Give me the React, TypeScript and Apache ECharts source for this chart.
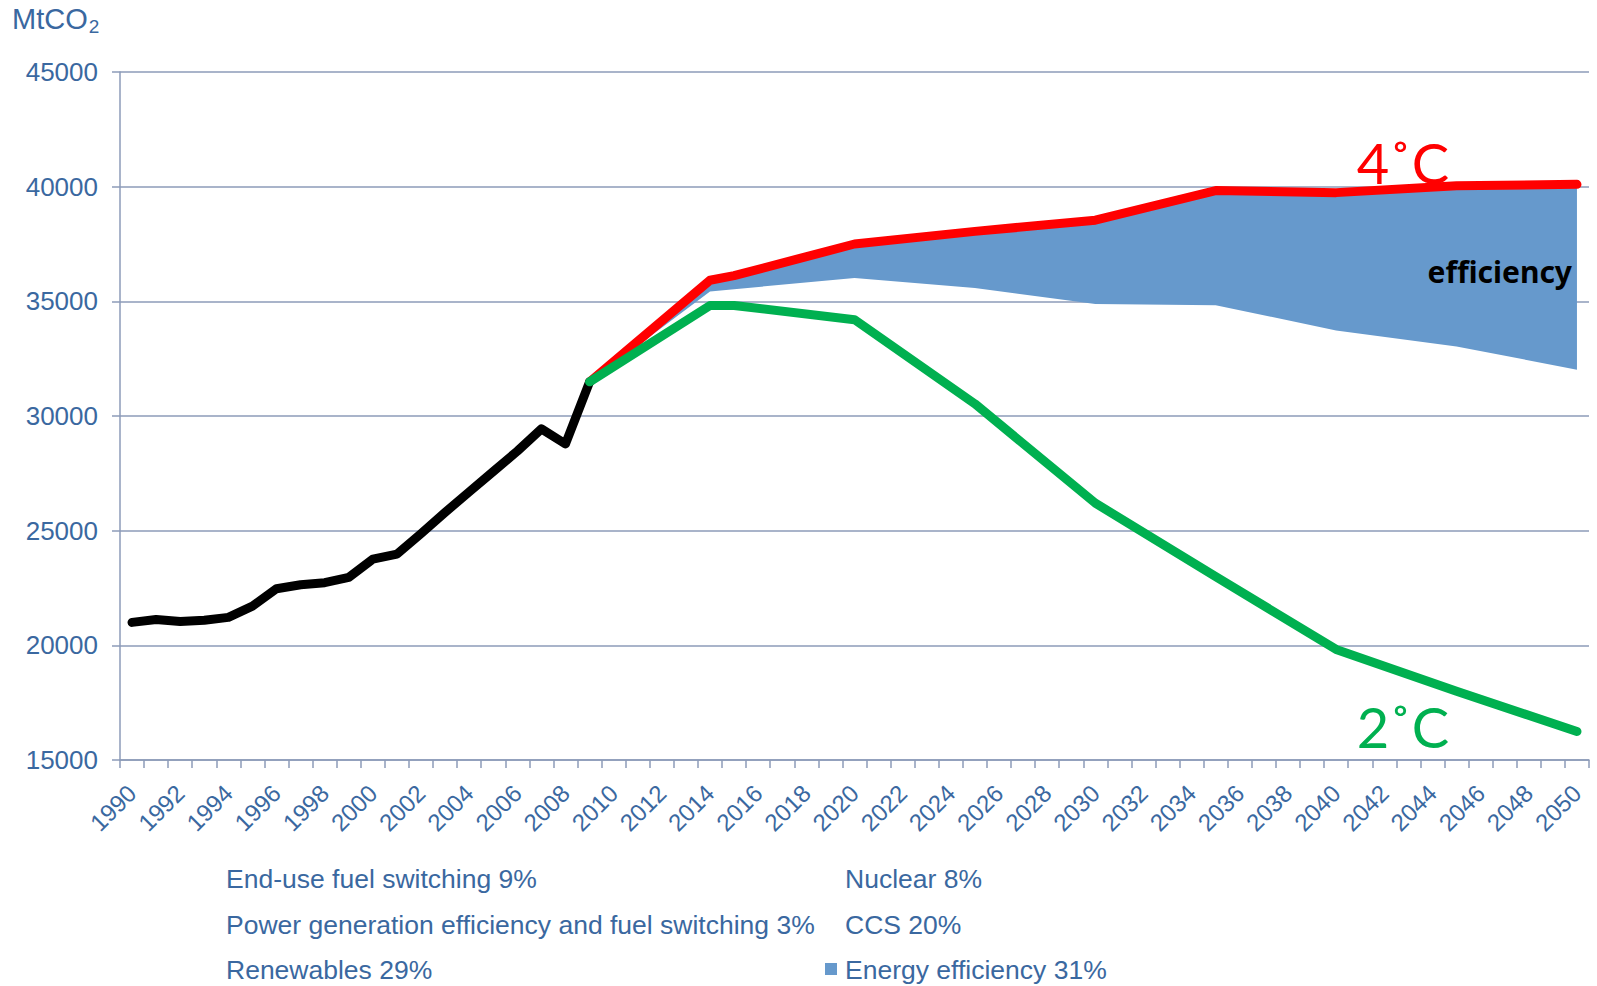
import React, { useEffect, useRef } from 'react';
import * as echarts from 'echarts';

// ---------- data ----------
const years: string[] = Array.from({ length: 61 }, (_, i) => String(1990 + i));

const historyYears = ['1990', '1991', '1992', '1993', '1994', '1995', '1996', '1997', '1998', '1999',
  '2000', '2001', '2002', '2003', '2004', '2005', '2006', '2007', '2008', '2009'];
const historyCO2 = [21000, 21130, 21040, 21090, 21220, 21710, 22470, 22640, 22730, 22960,
  23760, 23980, 24870, 25800, 26690, 27580, 28470, 29440, 28780, 31490];

const scenarioYears = ['2009', '2014', '2015', '2020', '2025', '2030', '2035', '2040', '2045', '2050'];
const fourDegreeCO2 = [31490, 35920, 36120, 37500, 38050, 38540, 39830, 39740, 40040, 40100];
const twoDegreeCO2 = [31490, 34820, 34820, 34200, 30530, 26200, 23000, 19820, 18000, 16240];
const efficiencyLowerCO2 = [31490, 35430, 35530, 36020, 35580, 34880, 34830, 33730, 33030, 32020];

const legendLeft = ['End-use fuel switching 9%', 'Power generation efficiency and fuel switching 3%', 'Renewables 29%'];
const legendRight = ['Nuclear 8%', 'CCS 20%', 'Energy efficiency 31%'];

const yTicks = { min: 15000, max: 45000, interval: 5000 };

// ---------- styles ----------
const AXIS_COLOR = '#8C9BB8';
const TEXT_COLOR = '#3A68A0';
const FONT = '"Liberation Sans", Arial, sans-serif';
const BLUE = '#6699CC';

export default function App() {
  const ref = useRef<HTMLDivElement>(null);

  useEffect(() => {
    if (!ref.current) return;
    const chart = echarts.init(ref.current, null, { renderer: 'svg' });

    const pairs = (xs: string[], vs: number[]) => xs.map((x, i) => [x, vs[i]]);
    const band = fourDegreeCO2.map((v, i) => v - efficiencyLowerCO2[i]);

    const thickLine = (color: string) => ({
      color,
      width: 9,
      cap: 'round',
      join: 'round',
    });

    const legendText = (text: string, x: number, y: number) => ({
      type: 'text',
      left: x,
      top: y,
      silent: true,
      style: { text, fill: TEXT_COLOR, font: `26.5px ${FONT}` },
    });

    const option: any = {
      animation: false,
      backgroundColor: '#ffffff',
      grid: { left: 120, right: 8, top: 72, bottom: 226, containLabel: false },
      xAxis: {
        type: 'category',
        data: years,
        boundaryGap: true,
        axisLine: { show: true, lineStyle: { color: AXIS_COLOR, width: 1.5 } },
        axisTick: { show: true, interval: 0, length: 8, lineStyle: { color: AXIS_COLOR, width: 1.5 } },
        axisLabel: {
          interval: 1,
          rotate: 45,
          color: TEXT_COLOR,
          fontSize: 24,
          fontFamily: FONT,
          margin: 29,
        },
        splitLine: { show: false },
      },
      yAxis: {
        type: 'value',
        min: yTicks.min,
        max: yTicks.max,
        interval: yTicks.interval,
        axisLine: { show: true, lineStyle: { color: AXIS_COLOR, width: 1.5 } },
        axisTick: { show: true, length: 8, lineStyle: { color: AXIS_COLOR, width: 1.5 } },
        axisLabel: {
          color: TEXT_COLOR,
          fontSize: 26,
          fontFamily: FONT,
          margin: 22,
          formatter: (v: number) => String(v),
        },
        splitLine: { show: true, lineStyle: { color: AXIS_COLOR, width: 1.5 } },
      },
      series: [
        {
          name: 'efficiencyBase',
          type: 'line',
          stack: 'eff',
          data: pairs(scenarioYears, efficiencyLowerCO2),
          symbol: 'none',
          lineStyle: { width: 0, opacity: 0 },
          silent: true,
          z: 1,
        },
        {
          name: 'Energy efficiency 31%',
          type: 'line',
          stack: 'eff',
          data: pairs(scenarioYears, band),
          symbol: 'none',
          lineStyle: { width: 0, opacity: 0 },
          areaStyle: { color: BLUE, opacity: 1 },
          silent: true,
          z: 1,
        },
        {
          name: '4°C',
          type: 'line',
          data: pairs(scenarioYears, fourDegreeCO2),
          symbol: 'none',
          lineStyle: thickLine('#FF0000'),
          z: 3,
        },
        {
          name: 'History',
          type: 'line',
          data: pairs(historyYears, historyCO2),
          symbol: 'none',
          lineStyle: thickLine('#000000'),
          z: 4,
        },
        {
          name: '2°C',
          type: 'line',
          data: pairs(scenarioYears, twoDegreeCO2),
          symbol: 'none',
          lineStyle: thickLine('#00B050'),
          z: 5,
        },
      ],
      graphic: [
        {
          type: 'text',
          left: 12,
          top: 4,
          silent: true,
          style: {
            text: 'MtCO{s|2}',
            fill: TEXT_COLOR,
            font: `29px ${FONT}`,
            rich: {
              s: { fontSize: 19, fontFamily: FONT, fill: TEXT_COLOR, verticalAlign: 'bottom', padding: [15, 0, 0, 1] },
            },
          },
        },
        {
          type: 'text',
          x: 1403,
          y: 162,
          silent: true,
          z: 10,
          style: {
            text: '4˚C',
            fill: '#FF0000',
            font: `56px Lato, "Noto Sans", sans-serif`,
            align: 'center',
            verticalAlign: 'middle',
          },
        },
        {
          type: 'text',
          x: 1403,
          y: 726,
          silent: true,
          z: 10,
          style: {
            text: '2˚C',
            fill: '#00B050',
            font: `56px Lato, "Noto Sans", sans-serif`,
            align: 'center',
            verticalAlign: 'middle',
          },
        },
        {
          type: 'text',
          x: 1572,
          y: 271,
          silent: true,
          z: 10,
          style: {
            text: 'efficiency',
            fill: '#000000',
            font: `bold 30px "Noto Sans", "Open Sans", sans-serif`,
            align: 'right',
            verticalAlign: 'middle',
          },
        },
        legendText(legendLeft[0], 226, 865),
        legendText(legendLeft[1], 226, 911),
        legendText(legendLeft[2], 226, 956),
        legendText(legendRight[0], 845, 865),
        legendText(legendRight[1], 845, 911),
        legendText(legendRight[2], 845, 956),
        {
          type: 'rect',
          shape: { x: 825, y: 963, width: 12, height: 12 },
          silent: true,
          style: { fill: BLUE },
        },
      ],
    };

    chart.setOption(option);
    return () => chart.dispose();
  }, []);

  return (
    <div
      ref={ref}
      style={{ position: 'fixed', left: 0, top: 0, width: '1597px', height: '986px', background: '#fff' }}
    />
  );
}
